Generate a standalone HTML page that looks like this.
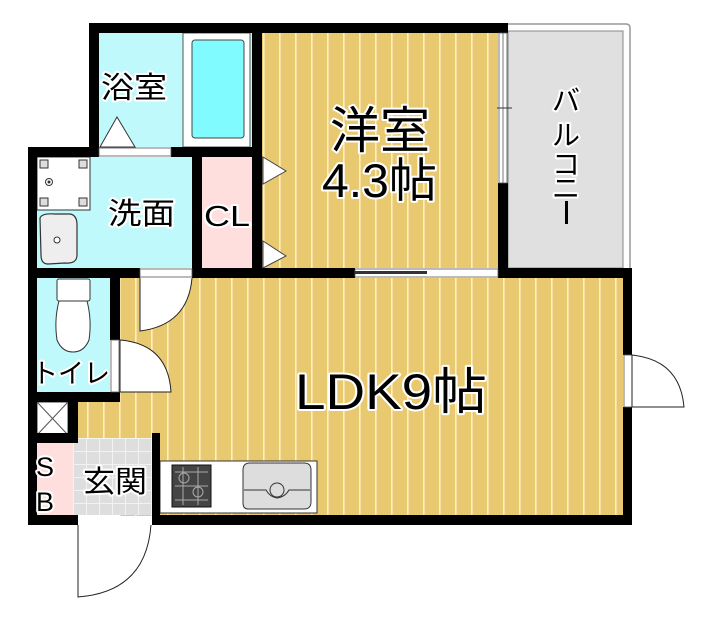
<!DOCTYPE html>
<html><head><meta charset="utf-8"><style>
body{margin:0;background:#fff}
svg{display:block}
text{font-family:"Liberation Sans","Noto Sans CJK JP",sans-serif;paint-order:stroke;stroke:#fff;stroke-linejoin:round}
</style></head><body>
<svg width="716" height="626" viewBox="0 0 716 626" xmlns="http://www.w3.org/2000/svg">
<defs>
<pattern id="wood" patternUnits="userSpaceOnUse" width="16" height="10" x="0" y="0">
<rect width="16" height="10" fill="#e9c96f"/><rect x="7" width="1.6" height="10" fill="#fbefc8"/>
</pattern>
<pattern id="tile" patternUnits="userSpaceOnUse" width="13" height="13" x="73" y="438">
<rect width="13" height="13" fill="#dedede"/><path d="M0 .5H13M.5 0V13" stroke="#f2f2f2" stroke-width="1"/>
</pattern>
</defs>
<!-- balcony -->
<path d="M508 24H626Q630 24 630 28V268" fill="none" stroke="#999" stroke-width="1.5"/>
<rect x="508" y="31" width="115" height="237" fill="#e0e0e0" stroke="#888" stroke-width="1"/>
<!-- floors -->
<rect x="262" y="33" width="236" height="235" fill="url(#wood)"/>
<rect x="120" y="278" width="503" height="238" fill="url(#wood)"/>
<rect x="78" y="402" width="42" height="40" fill="url(#wood)"/>
<!-- bath -->
<rect x="99" y="33" width="153" height="114" fill="#bff9fb"/>
<rect x="183" y="33" width="67" height="114" fill="#fff" stroke="#555" stroke-width="1"/>
<rect x="192" y="40" width="52" height="98" rx="3" fill="#80fbff" stroke="#444" stroke-width="1"/>
<path d="M100 147L117 117L135 147Z" fill="#fff" stroke="#333" stroke-width="1"/>
<!-- wash -->
<rect x="37" y="157" width="155" height="111" fill="#bff9fb"/>
<rect x="37" y="157" width="53" height="53" fill="#fff" stroke="#333" stroke-width="1"/>
<g fill="#ddd" stroke="#333" stroke-width="1"><rect x="40" y="160" width="8" height="8"/><rect x="79" y="160" width="8" height="8"/><rect x="40" y="198" width="8" height="8"/><rect x="79" y="198" width="8" height="8"/></g>
<circle cx="49" cy="182" r="3.5" fill="none" stroke="#333"/><circle cx="49" cy="182" r="1.5" fill="#333"/>
<path d="M40 218Q42 213 55 214H70Q77 215 77 225V255Q77 264 65 263L48 264Q41 264 41 255Z" fill="#eee" stroke="#333" stroke-width="1.2"/>
<circle cx="57" cy="240" r="3" fill="#fff" stroke="#333"/>
<!-- CL -->
<rect x="202" y="157" width="51" height="111" fill="#ffdede"/>
<rect x="253" y="157" width="9" height="111" fill="#fff" stroke="#555" stroke-width="0.8"/>
<path d="M263 157L286 171L263 184ZM263 241L286 256L263 268Z" fill="#fff" stroke="#444" stroke-width="1"/>
<!-- toilet -->
<rect x="37" y="278" width="73" height="114" fill="#bff9fb"/>
<rect x="57" y="279" width="33" height="22" rx="2" fill="#fff" stroke="#333"/>
<path d="M59 301Q54 320 57 340Q62 352 73 352Q84 352 89 340Q92 320 87 301Z" fill="#fff" stroke="#333"/>
<!-- PS -->
<rect x="37" y="402" width="31" height="33" fill="#fff" stroke="#333"/>
<path d="M37 402L68 435M68 402L37 435" stroke="#555" stroke-width="1"/>
<!-- SB, entrance -->
<rect x="37" y="443" width="36" height="72" fill="#ffdede"/>
<rect x="73" y="438" width="79" height="77" fill="url(#tile)"/>
<!-- kitchen -->
<rect x="160" y="461" width="157" height="52" fill="#fff" stroke="#333" stroke-width="1"/>
<rect x="172" y="465" width="39" height="42" fill="#444" stroke="#111"/>
<g stroke="#aaa" stroke-width="1" fill="none"><path d="M175 472H208M175 486H208M175 500H208M183 467V505M198 467V505"/><circle cx="184" cy="478" r="5"/><circle cx="198" cy="492" r="5"/></g>
<path d="M243 470Q243 463 250 463H304Q311 463 311 470V502Q311 509 304 509H248Q243 509 243 503Z" fill="#ddd" stroke="#333"/>
<path d="M244 490H266Q270 497 277 498Q285 497 289 490H310" fill="none" stroke="#333"/>
<circle cx="277" cy="490" r="7" fill="#ddd" stroke="#333"/>
<!-- walls -->
<g fill="#000">
<rect x="89" y="23" width="419" height="10"/>
<rect x="89" y="23" width="10" height="134"/>
<rect x="252" y="23" width="10" height="255"/>
<rect x="28" y="147" width="71" height="10"/>
<rect x="171" y="147" width="91" height="10"/>
<rect x="28" y="147" width="9" height="378"/>
<rect x="192" y="157" width="10" height="121"/>
<rect x="28" y="268" width="112" height="10"/>
<rect x="192" y="268" width="163" height="10"/>
<rect x="498" y="183" width="10" height="95"/>
<rect x="498" y="268" width="134" height="10"/>
<rect x="623" y="268" width="9" height="87"/>
<rect x="623" y="407" width="9" height="118"/>
<rect x="110" y="278" width="10" height="62"/>
<rect x="28" y="392" width="92" height="10"/>
<rect x="68" y="402" width="10" height="41"/>
<rect x="28" y="433" width="50" height="10"/>
<rect x="152" y="433" width="8" height="92"/>
<rect x="28" y="515" width="50" height="10"/>
<rect x="152" y="515" width="480" height="10"/>
</g>
<!-- openings / doors -->
<rect x="99" y="148" width="72" height="8" fill="#fff" stroke="#555" stroke-width="0.8"/>
<rect x="140" y="269" width="52" height="8" fill="#fff" stroke="#555" stroke-width="0.8"/>
<path d="M140 278V331Q188 325 192 278" fill="#fff" stroke="#222" stroke-width="1"/>
<rect x="111" y="340" width="8" height="52" fill="#fff" stroke="#555" stroke-width="0.8"/>
<path d="M120 340Q168 344 171 392H120Z" fill="#fff" stroke="#222" stroke-width="1"/>
<rect x="499" y="33" width="8" height="150" fill="#fff" stroke="#555" stroke-width="0.8"/>
<line x1="503" y1="33" x2="503" y2="183" stroke="#555" stroke-width="0.8"/>
<line x1="497" y1="108" x2="512" y2="108" stroke="#333" stroke-width="1"/>
<rect x="355" y="269" width="143" height="8" fill="#fff" stroke="#555" stroke-width="0.8"/>
<rect x="355" y="271" width="72" height="3" fill="#333"/>
<rect x="624" y="355" width="8" height="52" fill="#fff" stroke="#555" stroke-width="0.8"/>
<path d="M632 355Q680 360 684 407H632Z" fill="#fff" stroke="#222" stroke-width="1"/>
<rect x="78" y="516" width="73" height="9" fill="#fff"/>
<path d="M78 525V597Q146 592 151 525" fill="#fff" stroke="#222" stroke-width="1"/>
<!-- labels -->
<g fill="#000" stroke-width="4">
<text x="101" y="98" font-size="30" textLength="66" lengthAdjust="spacingAndGlyphs">浴室</text>
<text x="108" y="224" font-size="30" textLength="67" lengthAdjust="spacingAndGlyphs">洗面</text>
<text x="204" y="226" font-size="29" textLength="46" lengthAdjust="spacingAndGlyphs">CL</text>
<text x="330" y="148" font-size="50" textLength="100" lengthAdjust="spacingAndGlyphs">洋室</text>
<text x="322" y="197" font-size="47" textLength="115" lengthAdjust="spacingAndGlyphs">4.3帖</text>
<text x="295" y="409" font-size="50" textLength="192" lengthAdjust="spacingAndGlyphs">LDK9帖</text>
<text x="32" y="383" font-size="27" textLength="78" lengthAdjust="spacingAndGlyphs">トイレ</text>
<text x="83" y="492" font-size="30" textLength="64" lengthAdjust="spacingAndGlyphs">玄関</text>
<text x="36" y="476" font-size="27">S</text>
<text x="36" y="511" font-size="27">B</text>
<g font-size="28" text-anchor="middle"><text x="566" y="110">バ</text><text x="566" y="145">ル</text><text x="566" y="174">コ</text><text x="566" y="198">ニ</text></g>
<rect x="565" y="201" width="3" height="23" stroke="none"/>
</g>
</svg>
</body></html>
